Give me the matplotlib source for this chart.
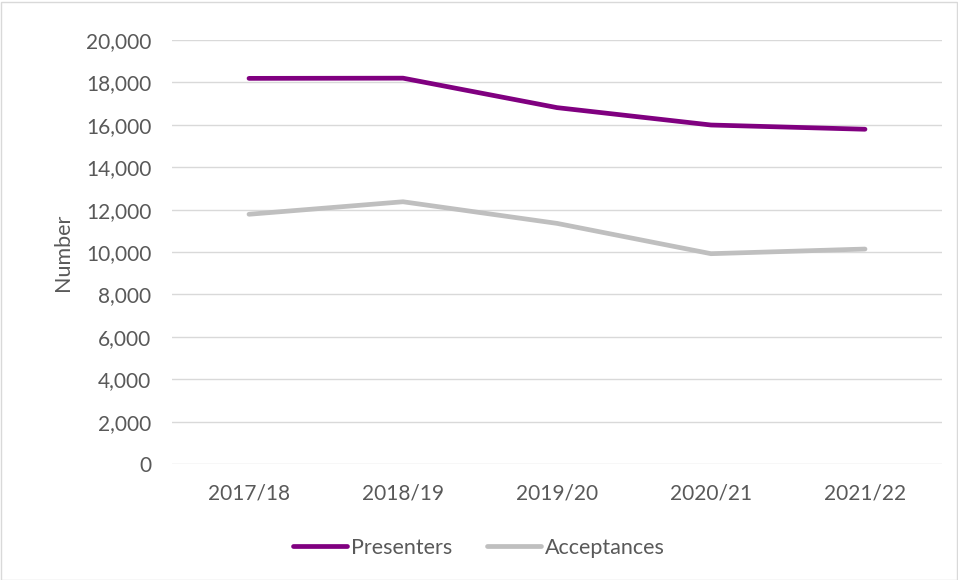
import matplotlib.pyplot as plt
from matplotlib.ticker import FuncFormatter

years = ["2017/18", "2018/19", "2019/20", "2020/21", "2021/22"]
presenters = [18190, 18200, 16810, 15990, 15790]
acceptances = [11780, 12370, 11350, 9920, 10140]

plt.rcParams["font.family"] = ["Lato", "DejaVu Sans"]
text_color = "#595959"

fig = plt.figure(figsize=(9.58, 5.8), dpi=100)
ax = fig.add_axes([172 / 958, 1 - 464 / 580, 770 / 958, 424 / 580])

x = range(len(years))
ax.plot(x, presenters, color="#800080", lw=3.4, solid_capstyle="round", label="Presenters")
ax.plot(x, acceptances, color="#bfbfbf", lw=3.4, solid_capstyle="round", label="Acceptances")

ax.set_xlim(-0.5, len(years) - 0.5)
ax.set_ylim(0, 20000)
ax.set_yticks(range(0, 20001, 2000))
ax.yaxis.set_major_formatter(FuncFormatter(lambda v, _: f"{int(v):,}"))
ax.set_xticks(list(x))
ax.set_xticklabels(years)
ax.grid(axis="y", color="#d9d9d9", lw=1)
ax.set_axisbelow(True)
for s in ax.spines.values():
    s.set_visible(False)
ax.tick_params(length=0, labelsize=15, colors=text_color)
ax.tick_params(axis="y", pad=15)
ax.tick_params(axis="x", pad=14)
ax.set_ylabel("Number", fontsize=15.5, color=text_color, labelpad=9)

fig.legend(loc="center", bbox_to_anchor=(0.5, 1 - 548 / 580), ncol=2, frameon=False,
           fontsize=15.5, labelcolor=text_color, handlelength=2.5, handletextpad=0.2,
           columnspacing=1.6)

border = plt.Rectangle((0.5 / 958, 0.5 / 580), 956 / 958, 578 / 580, transform=fig.transFigure,
                       fill=False, edgecolor="#d9d9d9", lw=1)
fig.patches.append(border)

fig.savefig("out.png", dpi=100)
